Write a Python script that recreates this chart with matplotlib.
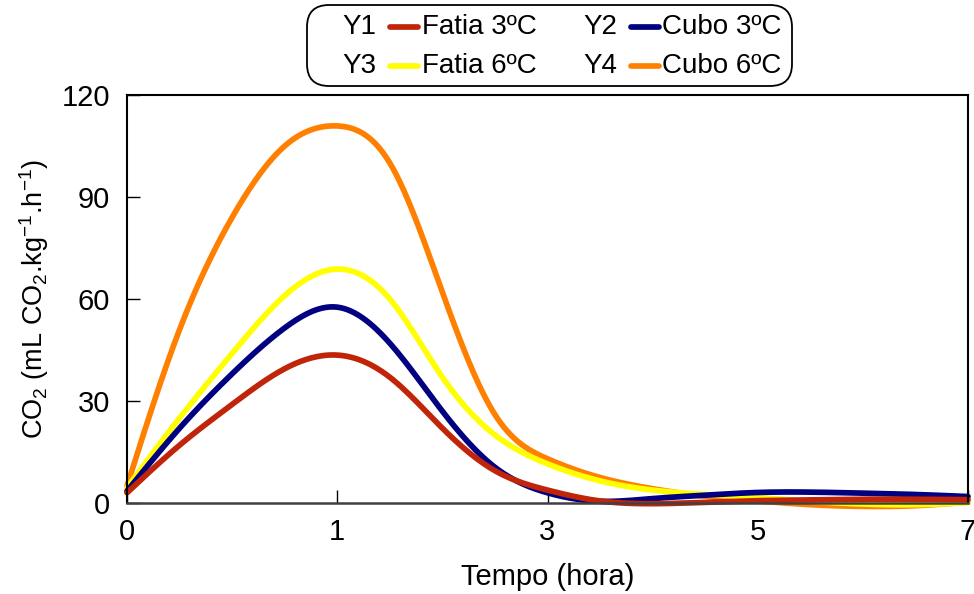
import numpy as np
import matplotlib
matplotlib.use("Agg")
import matplotlib.pyplot as plt
from matplotlib.lines import Line2D
from matplotlib.patches import FancyBboxPatch

plt.rcParams['font.family'] = ['Liberation Sans', 'DejaVu Sans']
plt.rcParams['mathtext.fontset'] = 'custom'
plt.rcParams['mathtext.rm'] = 'Liberation Sans'
plt.rcParams['mathtext.it'] = 'Liberation Sans'
plt.rcParams['mathtext.default'] = 'regular'

# ---- data ----
tick_labels = ['0', '1', '3', '5', '7']          # Tempo (hora), category axis
# sample positions (in category steps) at which the curves were read
x_pos = [0, 0.25, 0.5, 0.75, 1, 1.25, 1.5, 1.75, 2,
         2.25, 2.5, 2.75, 3, 3.25, 3.5, 3.75, 4]
fatia_3 = [3.0, 17, 29, 39.5, 43.5, 37, 22, 9.5, 3.8,
           0.6, -0.2, 0.2, 0.7, 0.9, 1.1, 1.1, 1.0]
cubo_3 = [3.5, 22, 38, 51.5, 57.6, 47, 27, 10.5, 3.0,
          0.5, 1.3, 2.3, 3.1, 3.2, 2.9, 2.5, 1.9]
fatia_6 = [4.5, 25, 44, 61, 68.8, 60, 37, 20, 11.5,
           6.5, 3.8, 2.5, 1.6, 0.5, -0.3, -0.5, 0.1]
cubo_6 = [5.0, 51, 84, 105, 110.9, 100, 62, 26, 13.0,
          7.5, 4.2, 2.0, 0.6, -0.5, -1.0, -0.8, 0.3]
series_names = ['Fatia 3ºC', 'Cubo 3ºC', 'Fatia 6ºC', 'Cubo 6ºC']
series_tags = ['Y1', 'Y2', 'Y3', 'Y4']
colors = ['#C0250A', '#000080', '#FFFF00', '#FF8000']


def natural_spline(x, y, n=30):
    x = np.asarray(x, float)
    y = np.asarray(y, float)
    N = len(x)
    h = np.diff(x)
    A = np.zeros((N, N))
    b = np.zeros(N)
    A[0, 0] = 1
    A[-1, -1] = 1
    for i in range(1, N - 1):
        A[i, i - 1] = h[i - 1]
        A[i, i] = 2 * (h[i - 1] + h[i])
        A[i, i + 1] = h[i]
        b[i] = 6 * ((y[i + 1] - y[i]) / h[i] - (y[i] - y[i - 1]) / h[i - 1])
    M = np.linalg.solve(A, b)
    xs, ys = [], []
    for i in range(N - 1):
        t = np.linspace(x[i], x[i + 1], n, endpoint=False)
        a = x[i + 1] - t
        c = t - x[i]
        s = (M[i] * a**3 + M[i + 1] * c**3) / (6 * h[i]) \
            + (y[i] / h[i] - M[i] * h[i] / 6) * a \
            + (y[i + 1] / h[i] - M[i + 1] * h[i] / 6) * c
        xs.append(t)
        ys.append(s)
    xs.append([x[-1]])
    ys.append([y[-1]])
    return np.concatenate(xs), np.concatenate(ys)


fig = plt.figure(figsize=(9.74, 5.94), dpi=100)
ax = fig.add_axes([127 / 974, 1 - 503 / 594, (968 - 127) / 974, (503 - 95) / 594])

data = [fatia_3, cubo_3, fatia_6, cubo_6]
order = [3, 2, 1, 0]  # orange bottom, red top
for z, i in enumerate(order):
    xs, ys = natural_spline(x_pos, data[i])
    ax.plot(xs, ys, color=colors[i], lw=4.1, solid_capstyle='round',
            clip_on=False, zorder=2 + z)

ax.set_xlim(0, 4)
ax.set_ylim(0, 120)
ax.set_xticks(range(len(tick_labels)))
ax.set_xticklabels(tick_labels)
ax.set_yticks([0, 30, 60, 90, 120])
ax.tick_params(axis='both', direction='in', length=9.5, width=1.0,
               labelsize=21, colors='black')
ax.tick_params(axis='x', pad=11)
ax.tick_params(axis='y', pad=12)
for s in ['left', 'right', 'top']:
    ax.spines[s].set_linewidth(1.5)
    ax.spines[s].set_color('black')
ax.spines['bottom'].set_linewidth(1.8)
ax.spines['bottom'].set_color('#404040')
for sp in ax.spines.values():
    sp.set_zorder(10)

ax.set_xlabel('Tempo (hora)', fontsize=21, labelpad=12)
ax.set_ylabel('CO$_2$ (mL CO$_2$.kg$^{-1}$.h$^{-1}$)', fontsize=19.5)
ax.yaxis.set_label_coords(-0.09, 0.5)

# ---- legend (manual) ----
W, H = 974, 594
box = FancyBboxPatch((307 / 100, (H - 86) / 100), (792 - 307) / 100, (86 - 5) / 100,
                     boxstyle='round,pad=0,rounding_size=0.22',
                     transform=fig.dpi_scale_trans, facecolor='white',
                     edgecolor='black', lw=1.3)
fig.patches.append(box)
col_x = [(342, 390, 418, 422), (583, 631, 659, 662)]
row_y = [27, 66]
for k in range(4):
    r, c = divmod(k, 2)
    tx, l0, l1, lx = col_x[c]
    yy = 1 - row_y[r] / H
    fig.text(tx / W, yy, series_tags[k], fontsize=20, va='center', ha='left')
    fig.lines.append(Line2D([l0 / W, l1 / W], [yy, yy], transform=fig.transFigure,
                            color=colors[k], lw=4.1, solid_capstyle='round'))
    fig.text(lx / W, yy, series_names[k], fontsize=20, va='center', ha='left')

fig.savefig('out.png', dpi=100)
